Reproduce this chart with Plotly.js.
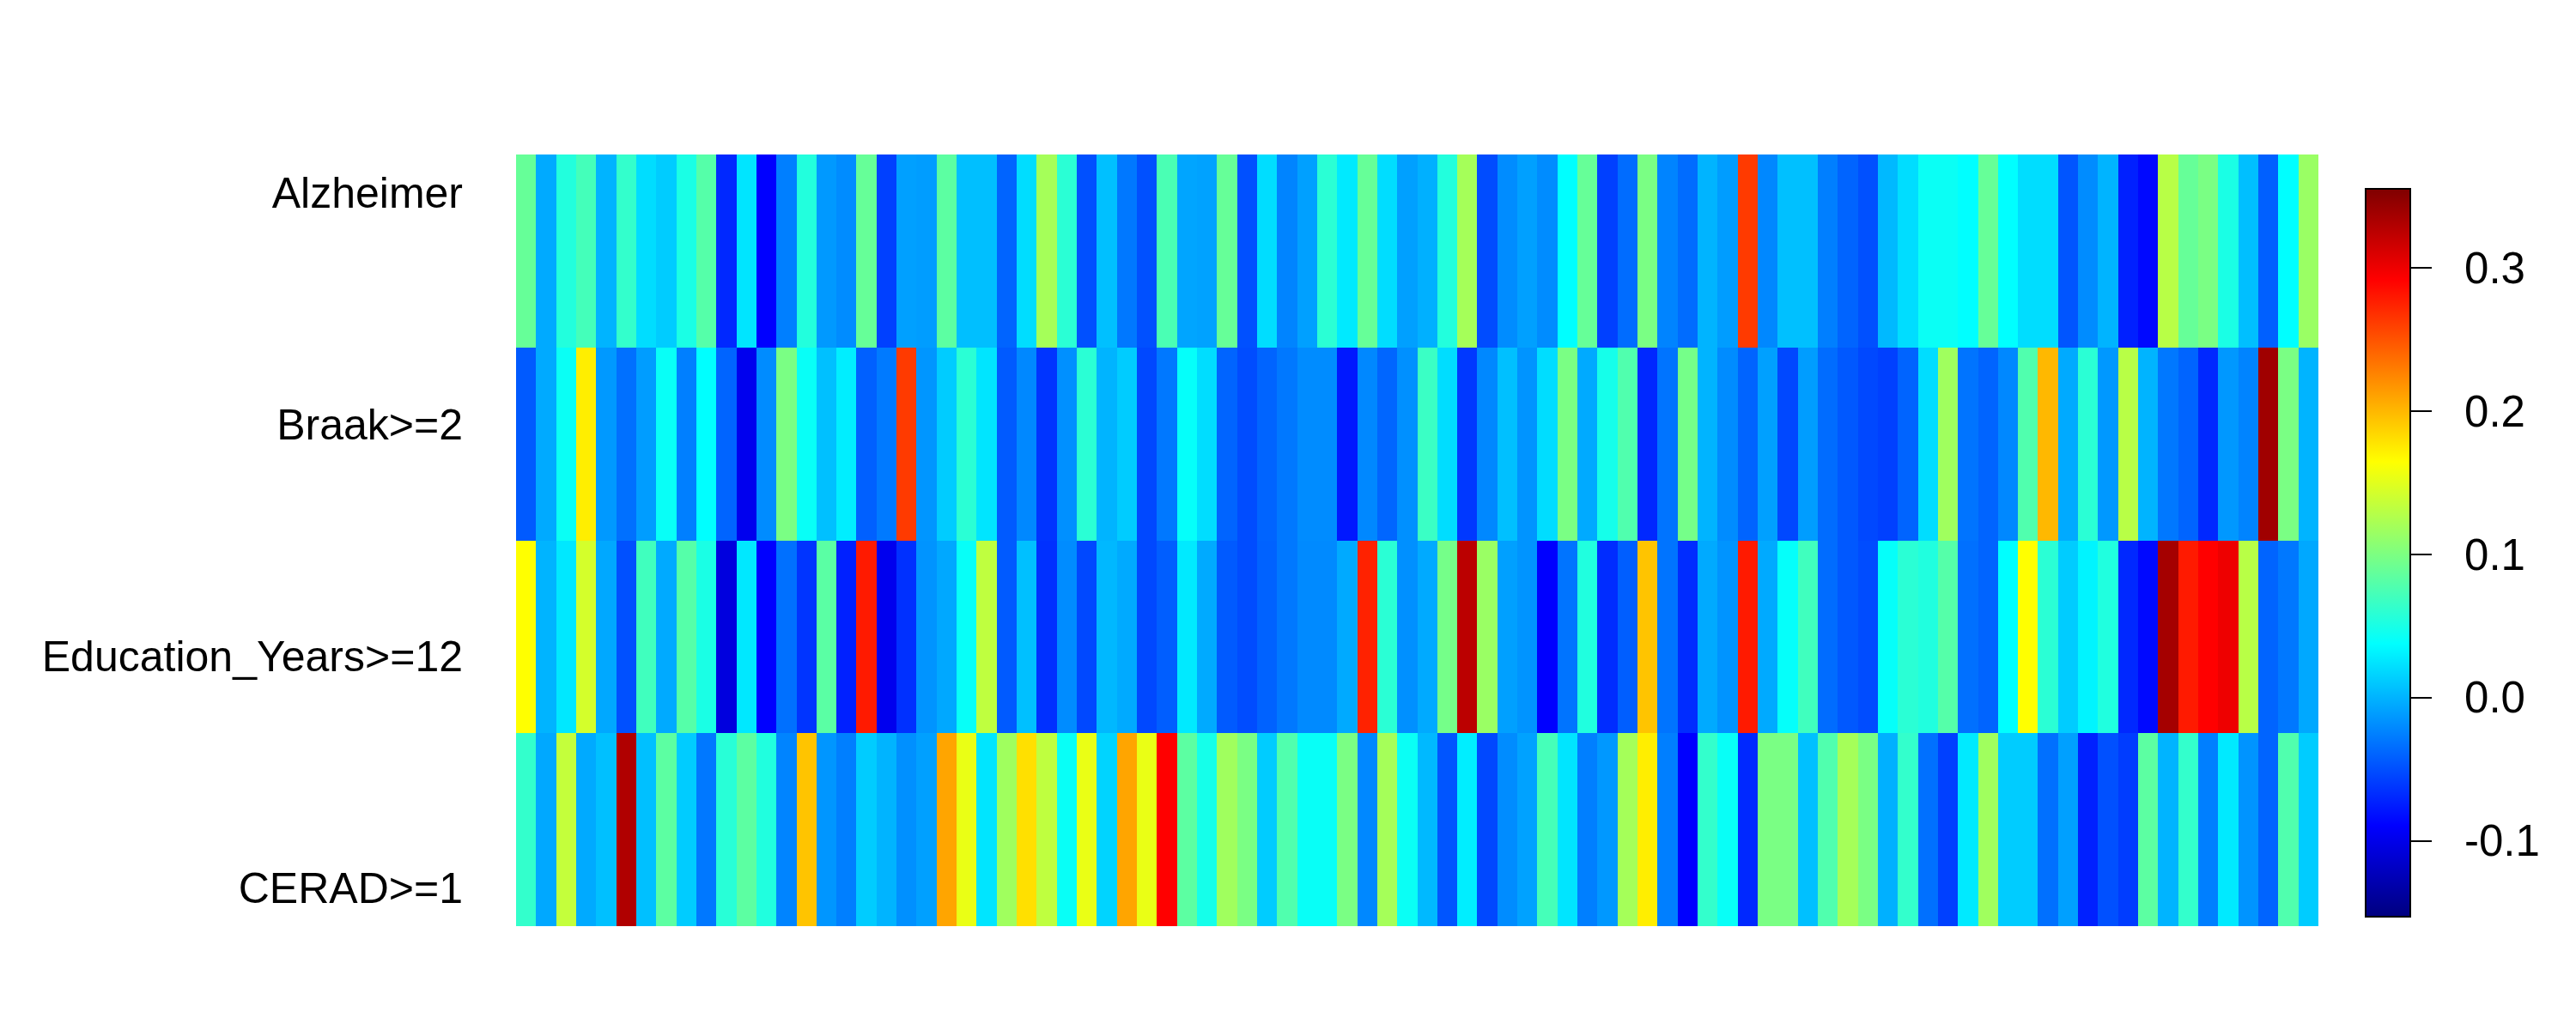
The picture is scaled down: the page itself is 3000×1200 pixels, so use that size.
<!DOCTYPE html>
<html>
<head>
<meta charset="utf-8">
<script src="https://cdn.plot.ly/plotly-3.0.1.min.js"></script>
<style>html,body{margin:0;padding:0;background:#fff;}#chart{width:3000px;height:1200px;}</style>
</head>
<body>
<div id="chart"></div>
<script>
// Row labels, top to bottom
var rowLabels = ["Alzheimer", "Braak>=2", "Education_Years>=12", "CERAD>=1"];

var alzheimer = [0.0885,-0.0047,0.0545,0.0715,0.0003,0.063,0.0206,0.0122,0.0505,0.08,
  -0.0695,0.0246,-0.0895,-0.026,0.0545,-0.013,-0.0195,0.0885,-0.0575,-0.0096,
  -0.011,0.0835,0.0057,0.0057,-0.0395,0.0206,0.1199,0.0585,-0.0495,0.006,
  -0.0295,-0.0495,0.0745,-0.0072,-0.0085,0.0885,-0.0495,0.0206,-0.0235,-0.0096,
  0.0585,0.0271,0.0885,0.0206,-0.0096,-0.0017,0.0545,0.1199,-0.0515,-0.0195,
  -0.0096,-0.0195,0.0375,0.0885,-0.0575,-0.0355,0.0985,-0.0235,-0.0355,0.0003,
  -0.011,0.2625,-0.0215,0.006,0.006,-0.026,-0.0395,-0.0495,0.003,0.0206,
  0.0425,0.0425,0.0375,0.0885,0.0375,0.0206,0.0206,-0.047,-0.0195,0.0003,
  -0.0735,-0.0855,0.1293,0.0885,0.0985,0.0505,0.0057,-0.0415,0.0375,0.1144];

var braak = [-0.0445,-0.0047,0.0425,0.173,-0.013,-0.0335,-0.011,0.0415,-0.026,0.0375,
  -0.0395,-0.098,-0.0195,0.0985,0.0415,0.006,0.029,-0.0415,-0.0285,0.2625,
  -0.0146,0.0122,0.0585,0.0246,-0.0445,-0.0215,-0.0635,-0.0176,0.0585,0.0003,
  0.0122,-0.0535,-0.0295,0.04,0.0206,-0.0395,-0.0515,-0.0395,-0.0295,-0.0195,
  -0.0195,-0.0775,-0.0215,-0.0385,-0.0176,0.0665,0.0206,-0.0615,-0.0215,0.006,
  -0.0156,0.0206,0.0985,-0.0047,0.048,0.0775,-0.0695,-0.0315,0.096,0.0003,
  -0.0195,-0.0395,-0.0096,-0.0535,-0.011,-0.0355,-0.0455,-0.0535,-0.0575,-0.0395,
  0.0206,0.1174,-0.0315,-0.0395,-0.0215,0.0775,0.1997,-0.0047,0.0585,-0.0136,
  0.1293,0.0003,-0.0295,-0.0395,-0.0695,-0.0136,-0.0235,0.3386,0.0985,0.0003];

var education = [0.1645,0.0003,0.026,0.143,-0.0057,-0.0495,0.0695,-0.0047,0.08,0.0505,
  -0.106,0.026,-0.0895,-0.0335,-0.0635,0.0825,-0.0735,0.2785,-0.098,-0.0655,
  -0.0156,-0.0057,0.041,0.1328,-0.0445,0.006,-0.0655,-0.0195,-0.0535,0.0023,
  -0.0047,-0.0535,-0.0425,0.0271,-0.0047,-0.0445,-0.0515,-0.0405,-0.0295,-0.0205,
  -0.0205,-0.0047,0.2745,0.0585,-0.0176,-0.0047,0.096,0.3252,0.1144,-0.0096,
  -0.0156,-0.0895,-0.0315,0.0535,-0.0675,-0.0425,0.1938,-0.0315,-0.0675,-0.0047,
  -0.0156,0.2785,-0.0047,0.04,0.0695,-0.0355,-0.0455,-0.0515,0.04,0.0585,
  0.0535,0.08,-0.0335,-0.0395,0.0375,0.1645,0.0585,0.0122,0.032,0.0535,
  -0.0695,-0.0855,0.336,0.2785,0.2915,0.2999,0.1293,-0.0395,-0.0295,-0.0057];

var cerad = [0.063,-0.0057,0.135,-0.0047,0.006,0.3307,0.006,0.0835,0.0122,-0.0295,
  0.0575,0.0835,0.0535,-0.0235,0.1938,-0.0146,-0.026,0.0122,0.0003,-0.0176,
  -0.0096,0.2092,0.154,0.0246,0.1174,0.1799,0.1328,0.0415,0.154,0.0162,
  0.2092,0.154,0.2915,0.0835,0.048,0.1174,0.0985,0.0122,0.0775,0.0415,
  0.0415,0.0985,-0.0215,0.1199,0.0425,0.003,-0.047,0.029,-0.0535,-0.0195,
  -0.0085,0.072,0.0246,-0.026,-0.0136,0.1199,0.173,-0.026,-0.0895,0.063,
  0.0415,-0.0695,0.0985,0.0985,0.006,0.0775,0.1199,0.0985,-0.0017,0.063,
  -0.0335,-0.0575,0.0271,0.1174,0.0122,0.0122,-0.0335,-0.0096,-0.0735,-0.0495,
  -0.0595,0.0835,0.0003,0.063,-0.026,0.0271,-0.0156,-0.0395,0.0775,0.0122];

// Colour bar ticks
var cbTickVals = [-0.1, 0.0, 0.1, 0.2, 0.3];
var cbTickText = ["-0.1", "0.0", "0.1", "0.2", "0.3"];
var zMin = -0.153, zMax = 0.355;

var rows = [alzheimer, braak, education, cerad];
var nCols = alzheimer.length;
var xIdx = alzheimer.map(function(_, i){ return i; });
var yIdx = rowLabels.map(function(_, i){ return i; });
// R places the row labels evenly between 5% and 95% of the image height
var n = rowLabels.length;
var yTickVals = rowLabels.map(function(_, i){
  var f = 0.05 + 0.9 * i / (n - 1);
  return -0.5 + n * f;
});
// extra gap between colour-bar ticks and their labels (non-breaking spaces)
var cbLabels = cbTickText.map(function(t){ return '\u00a0\u00a0' + t; });

var jet = [
  [0, '#00007F'], [0.125, '#0000FF'], [0.25, '#007FFF'], [0.375, '#00FFFF'],
  [0.5, '#7FFF7F'], [0.625, '#FFFF00'], [0.75, '#FF7F00'], [0.875, '#FF0000'], [1, '#7F0000']
];

var font = "Liberation Sans, Arial, Helvetica, sans-serif";

var trace = {
  type: 'heatmap',
  x: xIdx,
  y: yIdx,
  z: rows,
  zmin: zMin,
  zmax: zMax,
  colorscale: jet,
  zsmooth: false,
  hoverongaps: false,
  colorbar: {
    x: 1.0262, xanchor: 'left', xpad: 0,
    y: 0.4839, yanchor: 'middle', ypad: 0,
    thickness: 52, thicknessmode: 'pixels',
    len: 848, lenmode: 'pixels',
    outlinewidth: 2, outlinecolor: '#000',
    ticks: 'outside', ticklen: 24, tickwidth: 2, tickcolor: '#000',
    tickvals: cbTickVals, ticktext: cbLabels,
    tickfont: {family: font, size: 51, color: '#000'}
  }
};

var layout = {
  width: 3000, height: 1200,
  margin: {l: 601, r: 300, t: 180, b: 121, pad: 0},
  paper_bgcolor: '#fff', plot_bgcolor: '#fff',
  showlegend: false,
  xaxis: {visible: false, range: [-0.5, nCols - 0.5], showgrid: false, zeroline: false},
  yaxis: {
    range: [n - 0.5, -0.5],
    tickvals: yTickVals, ticktext: rowLabels,
    ticks: 'outside', ticklen: 51, tickcolor: 'rgba(0,0,0,0)',
    showgrid: false, zeroline: false, showline: false,
    tickfont: {family: font, size: 50, color: '#000'}
  }
};

Plotly.newPlot('chart', [trace], layout, {displayModeBar: false, staticPlot: true});
</script>
</body>
</html>
